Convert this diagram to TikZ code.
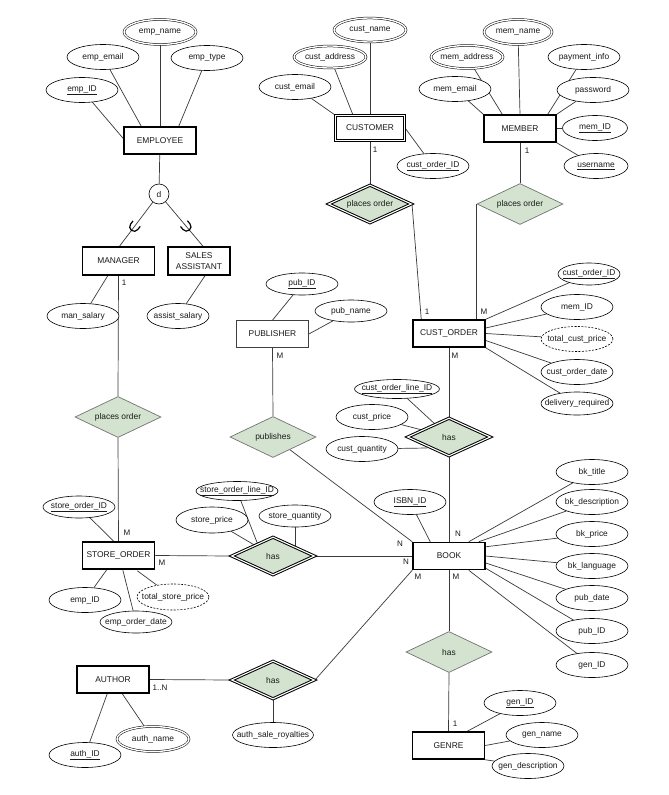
\documentclass[tikz,border=0pt]{standalone}
\usepackage{fontspec}
\setmainfont{Liberation Sans}
\usetikzlibrary{shapes.geometric,calc,decorations.markings}
\pgfdeclarelayer{bg}
\pgfsetlayers{bg,main}
\definecolor{relgreen}{HTML}{D4E3D0}
\definecolor{linkgray}{HTML}{3A3A3A}
\tikzset{
  txt/.style={font=\fontsize{8.4}{10.5}\selectfont, text=black!90},
  entity/.style={txt, rectangle, draw=black, line width=1.5pt, fill=white,
    minimum width=72pt, minimum height=27pt, inner sep=1pt, align=center},
  weakentity/.style={entity, double=white, double distance=1.6pt, line width=1.1pt,
    minimum width=69pt, minimum height=25pt},
  plainentity/.style={entity, line width=0.7pt, draw=black!75},
  attr/.style={txt, ellipse, draw=black, line width=0.6pt, fill=white,
    minimum width=72pt, minimum height=25pt, inner xsep=-30pt, inner ysep=-6pt},
  multiattr/.style={attr, double=white, double distance=1.4pt, line width=0.5pt},
  derived/.style={attr, dash pattern=on 2pt off 1.4pt},
  rel/.style={txt, diamond, draw=black!55, line width=0.7pt, fill=relgreen,
    minimum width=86pt, minimum height=41pt, inner sep=-20pt},
  identrel/.style={rel, draw=black, double=white, double distance=1.1pt, line width=1pt,
    minimum width=83pt, minimum height=38pt},
  discnode/.style={txt, circle, draw=black, line width=0.6pt, fill=white,
    minimum size=20pt, inner sep=0pt},
  card/.style={font=\fontsize{8}{9}\selectfont, text=black!90, inner sep=0pt},
  link/.style={draw=linkgray, line width=0.7pt},
  subsetlink/.style={link, postaction={decorate}, decoration={markings,
    mark=at position 0.55 with {\draw[line width=1.2pt, black]
      (-3.5,4.5) -- (0.5,4.5) arc (90:-90:4.5) -- (-3.5,-4.5);}}}
}
\newcommand{\keyattr}[1]{\underline{#1}}
\begin{document}
\begin{tikzpicture}[x=1pt,y=-1pt]
\useasboundingbox (0,0) rectangle (669,795);
\begin{pgfonlayer}{bg}
\fill[white] (0,0) rectangle (669,795);
\end{pgfonlayer}

% ---------- EMPLOYEE and its specialisation ----------
\node[entity] (employee) at (160,140.5) {EMPLOYEE};
\node[multiattr] (empname) at (160,32) {emp\_name};
\node[attr] (empemail) at (103,57) {emp\_email};
\node[attr] (emptype) at (207,58) {emp\_type};
\node[attr] (empid) at (82,90) {\keyattr{emp\_ID}};
\node[discnode] (disc) at (159,194) {d};
\node[entity, minimum height=28pt] (manager) at (118.5,261) {MANAGER};
\node[entity, minimum width=62pt, minimum height=28pt] (salesasst) at (199,261) {SALES\\ASSISTANT};
\node[attr] (mansalary) at (83,316) {man\_salary};
\node[attr, minimum width=62pt] (assistsalary) at (178,316) {assist\_salary};
\node[rel] (poemp) at (118,417) {places order};

% ---------- STORE_ORDER ----------
\node[entity] (storeorder) at (118.5,555.5) {STORE\_ORDER};
\node[attr, minimum height=22pt] (storeorderid) at (79,507) {\keyattr{store\_order\_ID}};
\node[attr] (soempid) at (85,600) {emp\_ID};
\node[attr, minimum height=22pt] (emporderdate) at (136,622) {emp\_order\_date};
\node[derived, minimum height=26pt] (totalstoreprice) at (173,597) {total\_store\_price};
\node[identrel] (hasstore) at (273,556) {has};
\node[attr, minimum width=82pt, minimum height=19pt] (storeorderlineid) at (237,491) {\keyattr{store\_order\_line\_ID}};
\node[attr, minimum height=26pt] (storeprice) at (212,520) {store\_price};
\node[attr, minimum height=22pt] (storequantity) at (295,516) {store\_quantity};

% ---------- CUSTOMER ----------
\node[weakentity] (customer) at (370,128) {CUSTOMER};
\node[multiattr, minimum height=24pt] (custname) at (370,30) {cust\_name};
\node[multiattr, minimum height=22pt] (custaddress) at (330,57) {cust\_address};
\node[attr] (custemail) at (295,87) {cust\_email};
\node[attr] (custorderidc) at (433,166) {\keyattr{cust\_order\_ID}};
\node[identrel] (pocust) at (370,204) {places order};

% ---------- MEMBER ----------
\node[entity] (member) at (520,128.5) {MEMBER};
\node[multiattr, minimum width=68pt] (memname) at (518,32) {mem\_name};
\node[multiattr, minimum height=23pt] (memaddress) at (467,57) {mem\_address};
\node[attr] (mememail) at (455,89) {mem\_email};
\node[attr] (paymentinfo) at (584,57) {payment\_info};
\node[attr] (password) at (593,90) {password};
\node[attr, minimum width=65pt] (memid) at (595,128) {\keyattr{mem\_ID}};
\node[attr, minimum width=64pt] (username) at (596,166) {\keyattr{username}};
\node[rel] (pomem) at (520,204) {places order};

% ---------- PUBLISHER ----------
\node[plainentity] (publisher) at (272.5,334) {PUBLISHER};
\node[attr, minimum height=22pt] (pubid) at (302,284) {\keyattr{pub\_ID}};
\node[attr, minimum height=22pt] (pubname) at (351,311) {pub\_name};
\node[rel] (publishes) at (273,437) {publishes};

% ---------- CUST_ORDER ----------
\node[entity] (custorder) at (449,333.5) {CUST\_ORDER};
\node[attr, minimum width=62pt, minimum height=22pt] (coid) at (589,274) {\keyattr{cust\_order\_ID}};
\node[attr] (comemid) at (577,307) {mem\_ID};
\node[derived] (totalcustprice) at (577,339) {total\_cust\_price};
\node[attr] (custorderdate) at (577,372) {cust\_order\_date};
\node[attr, minimum height=23pt] (deliveryrequired) at (577,403.5) {delivery\_required};
\node[identrel] (hascust) at (449,437) {has};
\node[attr, minimum width=85pt, minimum height=19pt] (custorderlineid) at (397,389) {\keyattr{cust\_order\_line\_ID}};
\node[attr] (custprice) at (372,417) {cust\_price};
\node[attr] (custquantity) at (362,449) {cust\_quantity};

% ---------- BOOK ----------
\node[entity] (book) at (449,556) {BOOK};
\node[attr] (isbn) at (410,502) {\keyattr{ISBN\_ID}};
\node[attr] (bktitle) at (592,472) {bk\_title};
\node[attr] (bkdesc) at (592,502) {bk\_description};
\node[attr] (bkprice) at (592,534) {bk\_price};
\node[attr] (bklang) at (592,566) {bk\_language};
\node[attr] (pubdate) at (592,598) {pub\_date};
\node[attr] (bkpubid) at (592,631) {pub\_ID};
\node[attr] (bkgenid) at (592,665) {gen\_ID};

% ---------- GENRE ----------
\node[rel] (hasgenre) at (449,652) {has};
\node[entity] (genre) at (448.5,745.5) {GENRE};
\node[attr] (genid) at (520,703) {\keyattr{gen\_ID}};
\node[attr] (genname) at (542,735) {gen\_name};
\node[attr] (gendesc) at (528,766) {gen\_description};

% ---------- AUTHOR ----------
\node[entity] (author) at (113,679.5) {AUTHOR};
\node[identrel] (hasauth) at (273,680) {has};
\node[attr, minimum width=81pt] (authsale) at (273,735) {auth\_sale\_royalties};
\node[attr] (authid) at (85,755) {\keyattr{auth\_ID}};
\node[multiattr] (authname) at (153,739) {auth\_name};

% ---------- cardinalities ----------
\node[card] (c1) at (124,283) {1};
\node[card] (c2) at (127,533) {M};
\node[card] (c3) at (162,563) {M};
\node[card] (c4) at (375,150) {1};
\node[card] (c5) at (527,151) {1};
\node[card] (c6) at (427,312) {1};
\node[card] (c7) at (484,312) {M};
\node[card] (c8) at (455,356) {M};
\node[card] (c9) at (280,356) {M};
\node[card] (c10) at (400,544) {N};
\node[card] (c11) at (406,562) {N};
\node[card] (c12) at (418,577) {M};
\node[card] (c13) at (456,577) {M};
\node[card] (c14) at (458,534) {N};
\node[card] (c15) at (160,688) {1..N};
\node[card] (c16) at (455,724) {1};

% ---------- connectors (behind the shapes) ----------
\begin{pgfonlayer}{bg}
% employee
\draw[link] (empid) -- ($(employee.west)+(0,-2)$);
\draw[link] (empemail) -- ($(employee.north west)+(18,0)$);
\draw[link] (empname) -- (employee.north);
\draw[link] (emptype) -- ($(employee.north east)+(-18,0)$);
\draw[link] (employee) -- (disc);
\draw[subsetlink] (disc) -- ($(manager.north)+(1,0)$);
\draw[subsetlink] (disc) -- ($(salesasst.north)+(4,0)$);
\draw[link] (mansalary) -- ($(manager.south west)+(26,0)$);
\draw[link] (assistsalary) -- ($(salesasst.south)+(6,0)$);
\draw[link] (manager.south) -- (poemp.north);
\draw[link] (poemp.south) -- (storeorder.north);
% store order
\draw[link] (storeorderid) -- ($(storeorder.north west)+(32,0)$);
\draw[link] (soempid) -- ($(storeorder.south west)+(25,0)$);
\draw[link] (emporderdate) -- ($(storeorder.south west)+(41,0)$);
\draw[link] (totalstoreprice) -- ($(storeorder.south east)+(-18,1)$);
\draw[link] (storeorder.east) -- (hasstore.west);
\draw[link] (hasstore.east) -- (book.west);
\draw[link] (storeorderlineid) -- ($(hasstore.center)+(-13,-6)$);
\draw[link] (storeprice) -- (hasstore);
\draw[link] (storequantity) -- (storequantity |- hasstore.center);
% customer
\draw[link] (custname) -- (customer.north);
\draw[link] (custaddress) -- ($(customer.north west)+(18,0)$);
\draw[link] (custemail) -- (customer.north west);
\draw[link] (custorderidc) -- (customer.east);
\draw[link] (customer.south) -- (pocust.north);
\draw[link] (pocust.east) -- ($(custorder.north west)+(9,0)$);
% member
\draw[link] (memname) -- (member.north);
\draw[link] (memaddress) -- ($(member.north west)+(19,0)$);
\draw[link] (mememail) -- (member.north west);
\draw[link] (paymentinfo) -- ($(member.north east)+(-9,0)$);
\draw[link] (password) -- (member.north east);
\draw[link] (memid) -- (member.east);
\draw[link] (username) -- (member.south east);
\draw[link] (member.south) -- (pomem.north);
\draw[link] (pomem.west) -- (pomem.west |- custorder.north);
% publisher
\draw[link] (pubid) -- (publisher.north);
\draw[link] (pubname) -- (publisher.east);
\draw[link] (publisher.south) -- (publishes.north);
\draw[link] (publishes) -- (book.north west);
% cust order
\draw[link] (coid) -- (custorder.north east);
\draw[link] (comemid) -- ($(custorder.east)+(0,-5.5)$);
\draw[link] (totalcustprice) -- (custorder.east);
\draw[link] (custorderdate) -- ($(custorder.east)+(0,7)$);
\draw[link] (deliveryrequired) -- (custorder.south east);
\draw[link] (custorder.south) -- (hascust.north);
\draw[link] (hascust.south) -- (book.north);
\draw[link] (custorderlineid) -- (hascust);
\draw[link] (custprice) -- (hascust);
\draw[link] (custquantity) -- ($(hascust.center)+(-22,11)$);
% book
\draw[link] (isbn) -- ($(book.north west)+(18,0)$);
\draw[link] (bktitle) -- ($(book.north east)+(-17,0)$);
\draw[link] (bkdesc) -- ($(book.north east)+(-7,0)$);
\draw[link] (bkprice) -- ($(book.north east)+(0,5)$);
\draw[link] (bklang) -- (book.east);
\draw[link] (pubdate) -- ($(book.east)+(0,7)$);
\draw[link] (bkpubid) -- ($(book.south east)+(0,-2)$);
\draw[link] (bkgenid) -- ($(book.south east)+(-17,0)$);
\draw[link] (book.south) -- (hasgenre.north);
% genre
\draw[link] (hasgenre.south) -- (genre.north);
\draw[link] (genid) -- ($(genre.north east)+(-18,0)$);
\draw[link] (genname) -- (genre.east);
\draw[link] (gendesc) -- (genre.south east);
% author
\draw[link] (author.east) -- (hasauth.west);
\draw[link] (hasauth.east) -- (book.south west);
\draw[link] (hasauth.south) -- (authsale.north);
\draw[link] (authid) -- ($(author.south west)+(31,0)$);
\draw[link] (authname) -- ($(author.south west)+(46,0)$);
\end{pgfonlayer}
\end{tikzpicture}
\end{document}
